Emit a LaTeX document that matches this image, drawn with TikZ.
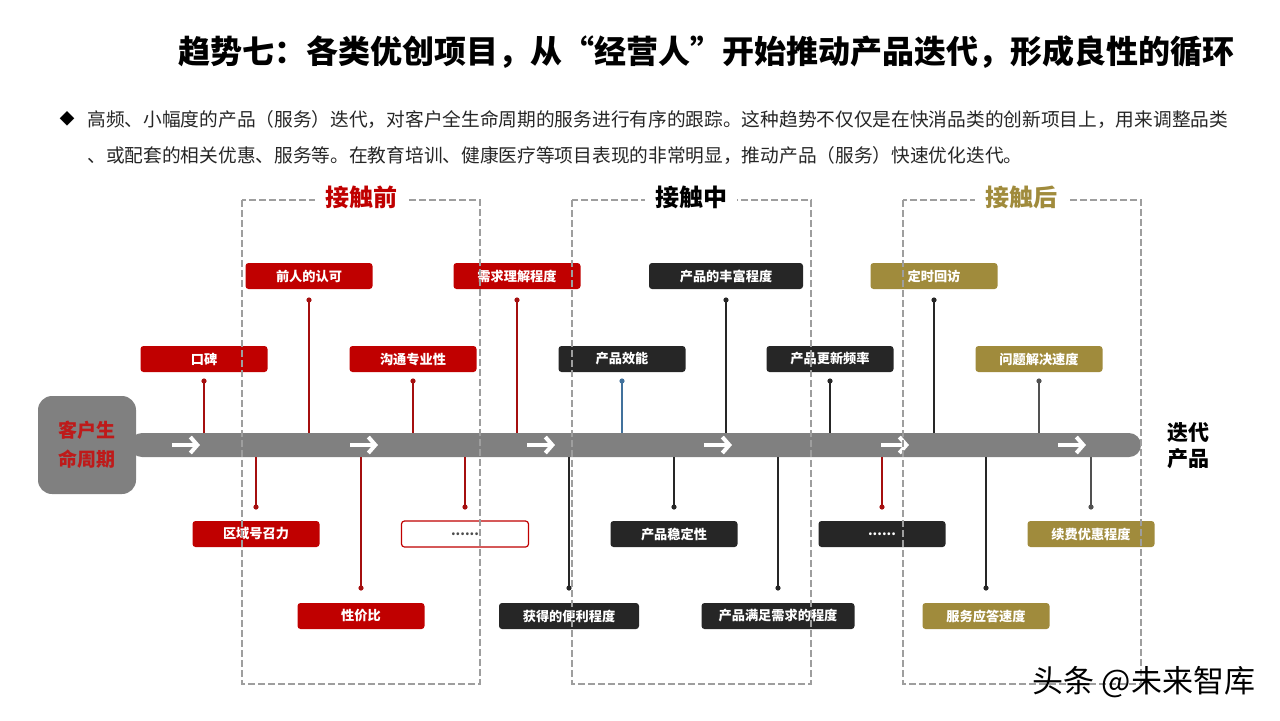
\documentclass[tikz,border=0pt]{standalone}
\usepackage{fontspec}
\newfontfamily\cjk{Noto Sans CJK SC}
\usetikzlibrary{arrows.meta}
\definecolor{tagred}{HTML}{C00000}
\definecolor{stemred}{HTML}{A50F0F}
\definecolor{taggold}{HTML}{A08B3C}
\definecolor{tagblack}{HTML}{262626}
\definecolor{stemblue}{HTML}{41719C}
\definecolor{bargray}{HTML}{808080}
\definecolor{lifered}{HTML}{BE1A1A}

\begin{document}
\begin{tikzpicture}[x=0.5pt, y=-0.5pt,
  tagbox/.style={fill=#1, rounded corners=1.5pt, minimum width=63.5pt, minimum height=13pt,
    inner sep=0pt, text=white, font=\cjk\bfseries\fontsize{6.6}{7}\selectfont},
  stemdot/.style={circle, fill=#1, inner sep=0pt, minimum size=2.6pt},
  stemline/.style={draw=#1, line width=0.7pt},
  phaseframe/.style={draw=black!38, line width=0.6pt, dash pattern=on 3.5pt off 1.5pt},
  phasetitle/.style={fill=white, inner xsep=5pt, inner ysep=1pt, text=#1,
    font=\cjk\bfseries\fontsize{12}{14}\selectfont},
  flowarrow/.style={white, line width=2pt, -{Straight Barb[length=3.5pt, width=8pt]}}]
\useasboundingbox (0,0) rectangle (1280,720);
% heading and note
\node[anchor=east, inner sep=0pt, font=\cjk\bfseries\fontsize{16}{18}\selectfont] (heading) at (1235,52)
  {趋势七：各类优创项目，从“经营人”开始推动产品迭代，形成良性的循环};
\node[inner sep=0pt, font=\cjk\fontsize{7.5}{8}\selectfont] (bullet) at (67,119) {◆};
\node[anchor=west, inner sep=0pt, text=black!85, font=\cjk\fontsize{9.35}{11}\selectfont] (note1) at (87,119)
  {高频、小幅度的产品（服务）迭代，对客户全生命周期的服务进行有序的跟踪。这种趋势不仅仅是在快消品类的创新项目上，用来调整品类};
\node[anchor=west, inner sep=0pt, text=black!85, font=\cjk\fontsize{9.35}{11}\selectfont] (note2) at (87,155)
  {、或配套的相关优惠、服务等。在教育培训、健康医疗等项目表现的非常明显，推动产品（服务）快速优化迭代。};
% main bar
\node[fill=bargray, rounded corners=6pt, minimum width=505.5pt, minimum height=12pt, inner sep=0pt] (bar) at (635.5,445) {};
\node[fill=bargray, rounded corners=7pt, minimum size=49pt, inner sep=0pt, text=lifered, align=center,
  font=\cjk\bfseries\fontsize{9.5}{14.5}\selectfont] (life) at (87,445) {客户生\\命周期};
\foreach \x in {186,364,541,718,895,1072}
  \draw[flowarrow] (\x-14,445) -- (\x+14,445);
\node[anchor=west, inner sep=0pt, align=left, font=\cjk\bfseries\fontsize{10.5}{13}\selectfont] (iterate) at (1167,446) {迭代\\产品};
% top tags
\node[tagbox=tagred] (qianren) at (309,276) {前人的认可};
\node[tagbox=tagred] (xuqiu) at (517,276) {需求理解程度};
\node[tagbox=tagblack, minimum width=77pt] (fengfu) at (726,276) {产品的丰富程度};
\node[tagbox=taggold] (huifang) at (934,276) {定时回访};
\node[tagbox=tagred] (koubei) at (204,359) {口碑};
\node[tagbox=tagred] (goutong) at (413,359) {沟通专业性};
\node[tagbox=tagblack] (xiaoneng) at (622,359) {产品效能};
\node[tagbox=tagblack] (gengxin) at (830,359) {产品更新频率};
\node[tagbox=taggold] (jiejue) at (1039,359) {问题解决速度};
% bottom tags
\node[tagbox=tagred] (quyu) at (256,534) {区域号召力};
\node[tagbox=white, draw=tagred, line width=0.6pt, text=black!70] (moreA) at (465,534) {......};
\node[tagbox=tagblack] (wending) at (674,534) {产品稳定性};
\node[tagbox=tagblack] (moreB) at (882,534) {......};
\node[tagbox=taggold] (xufei) at (1091,534) {续费优惠程度};
\node[tagbox=tagred] (xingjia) at (361,616) {性价比};
\node[tagbox=tagblack, minimum width=70pt] (bianli) at (569,616) {获得的便利程度};
\node[tagbox=tagblack, minimum width=76.5pt] (manzu) at (778,616) {产品满足需求的程度};
\node[tagbox=taggold] (yingda) at (986,616) {服务应答速度};
% stems
\node[stemdot=stemred] (qianren-d) at (309,300) {};
\node[stemdot=stemred] (xuqiu-d) at (517,300) {};
\node[stemdot=tagblack] (fengfu-d) at (726,300) {};
\node[stemdot=tagblack] (huifang-d) at (934,300) {};
\node[stemdot=stemred] (koubei-d) at (204,381) {};
\node[stemdot=stemred] (goutong-d) at (413,381) {};
\node[stemdot=stemblue] (xiaoneng-d) at (622,381) {};
\node[stemdot=tagblack] (gengxin-d) at (830,381) {};
\node[stemdot=tagblack!80] (jiejue-d) at (1039,381) {};
\node[stemdot=stemred] (quyu-d) at (256,507) {};
\node[stemdot=stemred] (moreA-d) at (465,507) {};
\node[stemdot=tagblack] (wending-d) at (674,507) {};
\node[stemdot=stemred] (moreB-d) at (882,507) {};
\node[stemdot=tagblack!80] (xufei-d) at (1091,507) {};
\node[stemdot=stemred] (xingjia-d) at (361,588) {};
\node[stemdot=tagblack] (bianli-d) at (569,588) {};
\node[stemdot=tagblack] (manzu-d) at (778,588) {};
\node[stemdot=tagblack] (yingda-d) at (986,588) {};
\draw[stemline=stemred] (qianren-d.center) -- (qianren-d |- bar.north);
\draw[stemline=stemred] (xuqiu-d.center) -- (xuqiu-d |- bar.north);
\draw[stemline=tagblack] (fengfu-d.center) -- (fengfu-d |- bar.north);
\draw[stemline=tagblack] (huifang-d.center) -- (huifang-d |- bar.north);
\draw[stemline=stemred] (koubei-d.center) -- (koubei-d |- bar.north);
\draw[stemline=stemred] (goutong-d.center) -- (goutong-d |- bar.north);
\draw[stemline=stemblue] (xiaoneng-d.center) -- (xiaoneng-d |- bar.north);
\draw[stemline=tagblack] (gengxin-d.center) -- (gengxin-d |- bar.north);
\draw[stemline=tagblack!80] (jiejue-d.center) -- (jiejue-d |- bar.north);
\draw[stemline=stemred] (quyu-d.center) -- (quyu-d |- bar.south);
\draw[stemline=stemred] (moreA-d.center) -- (moreA-d |- bar.south);
\draw[stemline=tagblack] (wending-d.center) -- (wending-d |- bar.south);
\draw[stemline=stemred] (moreB-d.center) -- (moreB-d |- bar.south);
\draw[stemline=tagblack!80] (xufei-d.center) -- (xufei-d |- bar.south);
\draw[stemline=stemred] (xingjia-d.center) -- (xingjia-d |- bar.south);
\draw[stemline=tagblack] (bianli-d.center) -- (bianli-d |- bar.south);
\draw[stemline=tagblack] (manzu-d.center) -- (manzu-d |- bar.south);
\draw[stemline=tagblack] (yingda-d.center) -- (yingda-d |- bar.south);
% phases
\draw[phaseframe] (242,200) rectangle (480,684);
\draw[phaseframe] (572,200) rectangle (811,684);
\draw[phaseframe] (903,200) rectangle (1141,684);
\node[phasetitle=tagred] (before) at (361,197) {接触前};
\node[phasetitle=black] (during) at (691,197) {接触中};
\node[phasetitle=taggold] (after) at (1021,197) {接触后};
% watermark
\node[inner sep=0pt, font=\cjk\fontsize{15.5}{17}\selectfont] (mark) at (1144,682) {头条 @未来智库};
\end{tikzpicture}
\end{document}
